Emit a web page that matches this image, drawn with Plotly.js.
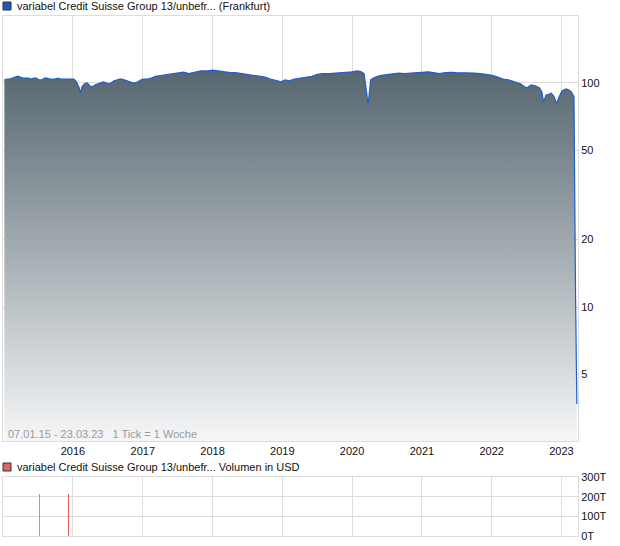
<!DOCTYPE html>
<html>
<head>
<meta charset="utf-8">
<script src="https://cdn.plot.ly/plotly-3.0.1.min.js"></script>
<style>
html,body{margin:0;padding:0;background:#fff;}
#chart{width:620px;height:546px;}
</style>
</head>
<body>
<div id="chart"></div>
<script>
// ---- data ----
var priceDates = [
 '2015-01-07','2015-01-21','2015-02-04','2015-02-18','2015-03-04','2015-03-18','2015-04-01','2015-04-15','2015-04-29',
 '2015-05-13','2015-05-27','2015-06-10','2015-06-24','2015-07-08','2015-07-22','2015-08-05','2015-08-19','2015-09-02',
 '2015-09-16','2015-09-30','2015-10-14','2015-10-28','2015-11-11','2015-11-25','2015-12-09','2015-12-23','2016-01-06',
 '2016-01-20','2016-02-03','2016-02-10','2016-02-17','2016-03-02','2016-03-16','2016-03-30','2016-04-13','2016-04-27',
 '2016-05-11','2016-05-25','2016-06-08','2016-06-22','2016-07-06','2016-07-20','2016-08-03','2016-08-17','2016-08-31',
 '2016-09-14','2016-09-28','2016-10-12','2016-10-26','2016-11-09','2016-11-23','2016-12-07','2016-12-21','2017-01-04',
 '2017-01-25','2017-02-15','2017-03-08','2017-04-05','2017-05-03','2017-06-07','2017-07-05','2017-08-02','2017-08-30',
 '2017-10-04','2017-11-01','2017-12-06','2018-01-03','2018-01-31','2018-02-28','2018-04-04','2018-05-02','2018-06-06',
 '2018-07-04','2018-08-01','2018-09-05','2018-10-03','2018-10-31','2018-12-05','2018-12-26','2019-01-16','2019-02-06',
 '2019-03-06','2019-04-03','2019-05-01','2019-06-05','2019-07-03','2019-07-31','2019-09-04','2019-10-02','2019-10-30',
 '2019-12-04','2020-01-01','2020-01-29','2020-02-19','2020-03-04','2020-03-11','2020-03-18','2020-03-25','2020-04-01',
 '2020-04-08','2020-04-22','2020-05-13','2020-06-03','2020-07-01','2020-08-05','2020-09-02','2020-09-30','2020-11-04',
 '2020-12-02','2021-01-06','2021-02-03','2021-03-03','2021-03-31','2021-05-05','2021-06-02','2021-06-30','2021-08-04',
 '2021-09-01','2021-09-29','2021-11-03','2021-12-01','2022-01-05','2022-02-02','2022-03-02','2022-03-30','2022-05-04',
 '2022-06-01','2022-06-22','2022-07-06','2022-07-27','2022-08-17','2022-09-07','2022-09-21','2022-09-30','2022-10-12',
 '2022-10-26','2022-11-09','2022-11-23','2022-12-07','2022-12-21','2023-01-04','2023-01-25','2023-02-08','2023-02-22',
 '2023-03-08','2023-03-16','2023-03-23'
];
var priceValues = [
 103,104,104,105,106,107,106,105,105,
 105,104,105,105,103,103,105,105,104,
 104,104,105,104,104,104,104,104,104,
 101,95,90,96,99,100,97,96,98,
 99,100,101,100,99,100,102,103,104,
 104,103,102,101,100,100,101,103,104,
 104,105,107,108,108.5,110,111,111.5,110,
 112,113,113,114,113,112,111,111,110,
 109,108,107,106,104,102,101,103,102,
 104,105,106,107,109,110,110,110.5,111,
 111,112,113,112,110,101,90,80,95,
 103,105,107,108,109,110,110.5,110,110.5,
 111,111,112,111,110,111,111.5,111,111,
 111,110.5,110,109,108,106,104,103,101,
 99,96,95,98,97,95,91,82,88,
 89,90,87,81,87,92,94,93,91,
 87,11.5,3.7
];
var baselineValue = 2.5;
var upVolDates = ['2015-07-10'];
var upVolValues = [213000];
var downVolDates = ['2015-12-09','2023-03-23'];
var downVolValues = [213000,2500];
var yearTicks = ['2016-01-01','2017-01-01','2018-01-01','2019-01-01','2020-01-01','2021-01-01','2022-01-01','2023-01-01'];
var yearLabels = ['2016','2017','2018','2019','2020','2021','2022','2023'];
var priceTicks = [5,10,20,50,100];
var priceTickLabels = ['5','10','20','50','100'];
var volTicks = [0,100000,200000,300000];
var volTickLabels = ['0T','100T','200T','300T'];
var titleMain = 'variabel Credit Suisse Group 13/unbefr... (Frankfurt)';
var titleVol = 'variabel Credit Suisse Group 13/unbefr... Volumen in USD';
var rangeText = '07.01.15 - 23.03.23   1 Tick = 1 Woche';

// ---- chart ----
var FONT = 'Liberation Sans, Arial, sans-serif';
var baseline = {
  x: [priceDates[0], priceDates[priceDates.length-1]], y: [baselineValue, baselineValue],
  type: 'scatter', mode: 'lines', line: {width: 0, color: 'rgba(0,0,0,0)'},
  xaxis: 'x', yaxis: 'y', showlegend: false, hoverinfo: 'skip'
};
var price = {
  x: priceDates, y: priceValues, type: 'scatter', mode: 'lines',
  line: {color: '#1f5fd0', width: 1.2},
  fill: 'tonexty',
  fillgradient: {type: 'vertical', colorscale: [[0, '#f6f7f8'], [1, '#56666f']]},
  xaxis: 'x', yaxis: 'y', showlegend: false
};
var upVol = {
  x: upVolDates, y: upVolValues, type: 'bar', width: 3.5e8,
  marker: {color: '#66cc66', line: {width: 0}}, xaxis: 'x2', yaxis: 'y2', showlegend: false
};
var downVol = {
  x: downVolDates, y: downVolValues, type: 'bar', width: 3.5e8,
  marker: {color: '#e06060', line: {width: 0}}, xaxis: 'x2', yaxis: 'y2', showlegend: false
};

var grid = '#dddddd';
var layout = {
  width: 620, height: 546,
  margin: {l: 3, r: 42, t: 16, b: 10, pad: 0},
  paper_bgcolor: '#ffffff', plot_bgcolor: '#ffffff',
  font: {family: FONT, size: 11, color: '#111'},
  showlegend: false, hovermode: false, bargap: 0,
  xaxis: {
    type: 'date', range: ['2014-12-31', '2023-03-29'], domain: [0, 1], anchor: 'y',
    tickmode: 'array', tickvals: yearTicks, ticktext: yearLabels,
    showgrid: true, gridcolor: grid, gridwidth: 1, zeroline: false,
    showline: true, linecolor: grid, mirror: true, ticks: '',
    tickfont: {family: FONT, size: 11, color: '#111'}
  },
  yaxis: {
    type: 'log', range: [0.403, 2.298], domain: [0.1827, 1], anchor: 'x', side: 'right',
    tickmode: 'array', tickvals: priceTicks, ticktext: priceTickLabels,
    showgrid: true, gridcolor: grid, zeroline: false,
    showline: true, linecolor: grid, mirror: true, ticks: '',
    tickfont: {family: FONT, size: 11, color: '#111'}
  },
  xaxis2: {
    type: 'date', matches: 'x', anchor: 'y2', domain: [0, 1],
    tickmode: 'array', tickvals: yearTicks, showticklabels: false,
    showgrid: true, gridcolor: grid, zeroline: false,
    showline: true, linecolor: grid, mirror: true, ticks: ''
  },
  yaxis2: {
    range: [0, 300000], domain: [0, 0.1135], anchor: 'x2', side: 'right',
    tickmode: 'array', tickvals: volTicks, ticktext: volTickLabels,
    showgrid: true, gridcolor: grid, zeroline: false,
    showline: true, linecolor: grid, mirror: true, ticks: '',
    tickfont: {family: FONT, size: 11, color: '#111'}
  },
  shapes: [
    {type: 'rect', xref: 'paper', yref: 'paper', xsizemode: 'pixel', ysizemode: 'pixel',
     xanchor: 0, yanchor: 1, x0: 0, x1: 8, y0: 6, y1: 14,
     fillcolor: '#1f56c0', line: {color: '#333', width: 1}},
    {type: 'rect', xref: 'paper', yref: 'paper', xsizemode: 'pixel', ysizemode: 'pixel',
     xanchor: 0, yanchor: 0, x0: 0, x1: 8, y0: 65, y1: 73,
     fillcolor: '#e06666', line: {color: '#333', width: 1}}
  ],
  annotations: [
    {text: titleMain, xref: 'paper', yref: 'paper', x: 0, y: 1, xshift: 12, yshift: 10,
     xanchor: 'left', yanchor: 'middle', showarrow: false,
     font: {family: FONT, size: 11, color: '#111'}},
    {text: titleVol, xref: 'paper', yref: 'paper', x: 0, y: 0, xshift: 12, yshift: 69,
     xanchor: 'left', yanchor: 'middle', showarrow: false,
     font: {family: FONT, size: 11, color: '#111'}},
    {text: rangeText, xref: 'paper', yref: 'paper', x: 0, y: 0.1827, xshift: 3, yshift: 7,
     xanchor: 'left', yanchor: 'middle', showarrow: false,
     font: {family: FONT, size: 11, color: '#9a9a9a'}}
  ]
};

Plotly.newPlot('chart', [baseline, price, upVol, downVol], layout, {displayModeBar: false, staticPlot: true});
</script>
</body>
</html>
